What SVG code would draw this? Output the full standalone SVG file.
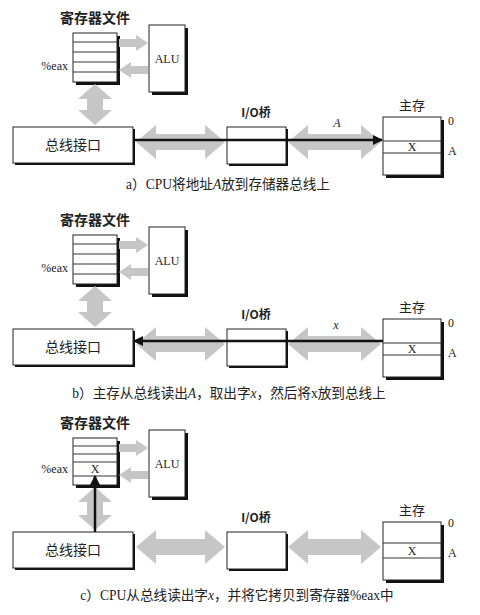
<svg xmlns="http://www.w3.org/2000/svg" width="480" height="615" viewBox="0 0 480 615">
<style>
.bg{fill:#fff}
.box{fill:#fff;stroke:#222;stroke-width:1}
.sh{fill:#111}
.row{stroke:#333;stroke-width:1;fill:none}
.ga{fill:#c6c6c6}
.blk{stroke:#111;stroke-width:2.5;fill:none}
.cjk{font-family:"Noto Sans CJK SC","Liberation Serif",sans-serif;fill:#222}
.ser{font-family:"Liberation Serif","Noto Sans CJK SC",serif;fill:#222}
.cap{font-family:"Liberation Serif","Noto Sans CJK SC",serif;font-size:13.6px;fill:#222;text-anchor:middle}
.mid{text-anchor:middle}
</style>
<defs>
<marker id="ah" viewBox="0 0 10 10" refX="9" refY="5" markerWidth="4.4" markerHeight="4" orient="auto" markerUnits="strokeWidth">
<path d="M0,0 L10,5 L0,10 z" fill="#111"/>
</marker>
</defs>
<rect class="bg" width="480" height="615"/>

<!-- Panel a -->
<g id="panel-a">
<g id="a-regfile">
<text class="cjk mid" x="95" y="23" font-size="14" font-weight="bold">寄存器文件</text>
<rect class="sh" x="76" y="36" width="44" height="49"/>
<rect class="box" x="73" y="33" width="44" height="49"/>
<path class="row" d="M73,42H117M73,52H117M73,62H117M73,72H117"/>
<text class="ser" x="68" y="70" font-size="12" text-anchor="end">%eax</text>
</g>
<g id="a-alu">
<rect class="sh" x="152" y="28" width="36" height="67"/>
<rect class="box" x="149" y="25" width="36" height="67"/>
<text class="ser mid" x="167" y="63" font-size="12">ALU</text>
</g>
<g id="a-bus">
<rect class="sh" x="15" y="129" width="120" height="36"/>
<rect class="box" x="13" y="127" width="120" height="36"/>
<text class="cjk mid" x="73" y="150" font-size="14">总线接口</text>
</g>
<g id="a-io">
<text class="cjk mid" x="256" y="117" font-size="12" font-weight="bold">I/O桥</text>
<rect class="sh" x="229" y="129" width="59" height="37"/>
<rect class="box" x="227" y="127" width="59" height="37"/>
</g>
<g id="a-mem">
<text class="cjk mid" x="412" y="110" font-size="13">主存</text>
<rect class="sh" x="386" y="120" width="58" height="58"/>
<rect class="box" x="383" y="117" width="58" height="58"/>
<path class="row" d="M383,141H441M383,153H441"/>
<text class="ser mid" x="412" y="151" font-size="12">X</text>
<text class="ser" x="448" y="125" font-size="12">0</text>
<text class="ser" x="448" y="155" font-size="12">A</text>
</g>
<g id="a-connectors">
<polygon class="ga" points="119,39 136,39 136,35 148,43 136,51 136,47 119,47"/>
<polygon class="ga" points="148,66 131,66 131,62 119,70 131,78 131,74 148,74"/>
<polygon class="ga" points="95,84 112,99 103,99 103,110 112,110 95,125 78,110 87,110 87,99 78,99"/>
<polygon class="ga" points="136,142 156,125 156,134 205,134 205,125 225,142 205,159 205,150 156,150 156,159"/>
<polygon class="ga" points="288,142 308,125 308,134 361,134 361,125 381,142 361,159 361,150 308,150 308,159"/>
<line class="blk" x1="133" y1="140" x2="382" y2="140" marker-end="url(#ah)"/>
<text class="ser mid" x="337" y="127" font-size="12" font-style="italic">A</text>
</g>
<text class="cap" x="228" y="189">a）CPU将地址<tspan font-style="italic">A</tspan>放到存储器总线上</text>
</g>

<!-- Panel b -->
<g id="panel-b" transform="translate(0,202)">
<g id="b-regfile">
<text class="cjk mid" x="95" y="23" font-size="14" font-weight="bold">寄存器文件</text>
<rect class="sh" x="76" y="36" width="44" height="49"/>
<rect class="box" x="73" y="33" width="44" height="49"/>
<path class="row" d="M73,42H117M73,52H117M73,62H117M73,72H117"/>
<text class="ser" x="68" y="70" font-size="12" text-anchor="end">%eax</text>
</g>
<g id="b-alu">
<rect class="sh" x="152" y="28" width="36" height="67"/>
<rect class="box" x="149" y="25" width="36" height="67"/>
<text class="ser mid" x="167" y="63" font-size="12">ALU</text>
</g>
<g id="b-bus">
<rect class="sh" x="15" y="129" width="120" height="36"/>
<rect class="box" x="13" y="127" width="120" height="36"/>
<text class="cjk mid" x="73" y="150" font-size="14">总线接口</text>
</g>
<g id="b-io">
<text class="cjk mid" x="256" y="117" font-size="12" font-weight="bold">I/O桥</text>
<rect class="sh" x="229" y="129" width="59" height="37"/>
<rect class="box" x="227" y="127" width="59" height="37"/>
</g>
<g id="b-mem">
<text class="cjk mid" x="412" y="110" font-size="13">主存</text>
<rect class="sh" x="386" y="120" width="58" height="58"/>
<rect class="box" x="383" y="117" width="58" height="58"/>
<path class="row" d="M383,141H441M383,153H441"/>
<text class="ser mid" x="412" y="151" font-size="12">X</text>
<text class="ser" x="448" y="125" font-size="12">0</text>
<text class="ser" x="448" y="155" font-size="12">A</text>
</g>
<g id="b-connectors">
<polygon class="ga" points="119,39 136,39 136,35 148,43 136,51 136,47 119,47"/>
<polygon class="ga" points="148,66 131,66 131,62 119,70 131,78 131,74 148,74"/>
<polygon class="ga" points="95,84 112,99 103,99 103,110 112,110 95,125 78,110 87,110 87,99 78,99"/>
<polygon class="ga" points="136,142 156,125 156,134 205,134 205,125 225,142 205,159 205,150 156,150 156,159"/>
<polygon class="ga" points="288,142 308,125 308,134 361,134 361,125 381,142 361,159 361,150 308,150 308,159"/>
<line class="blk" x1="383" y1="139" x2="134" y2="139" marker-end="url(#ah)"/>
<text class="ser mid" x="336" y="127" font-size="12" font-style="italic">x</text>
</g>
<text class="cap" x="229" y="196">b）主存从总线读出<tspan font-style="italic">A</tspan>，取出字<tspan font-style="italic">x</tspan>，然后将x放到总线上</text>
</g>

<!-- Panel c -->
<g id="panel-c" transform="translate(0,405)">
<g id="c-regfile">
<text class="cjk mid" x="95" y="23" font-size="14" font-weight="bold">寄存器文件</text>
<rect class="sh" x="76" y="36" width="44" height="47"/>
<rect class="box" x="73" y="33" width="44" height="47"/>
<path class="row" d="M73,41H117M73,49H117M73,57H117M73,71H117"/>
<text class="ser" x="68" y="68" font-size="12" text-anchor="end">%eax</text>
<text class="ser mid" x="95" y="68" font-size="12">X</text>
</g>
<g id="c-alu">
<rect class="sh" x="152" y="28" width="36" height="67"/>
<rect class="box" x="149" y="25" width="36" height="67"/>
<text class="ser mid" x="167" y="63" font-size="12">ALU</text>
</g>
<g id="c-bus">
<rect class="sh" x="15" y="129" width="120" height="36"/>
<rect class="box" x="13" y="127" width="120" height="36"/>
<text class="cjk mid" x="73" y="150" font-size="14">总线接口</text>
</g>
<g id="c-io">
<text class="cjk mid" x="256" y="117" font-size="12" font-weight="bold">I/O桥</text>
<rect class="sh" x="229" y="129" width="59" height="37"/>
<rect class="box" x="227" y="127" width="59" height="37"/>
</g>
<g id="c-mem">
<text class="cjk mid" x="412" y="110" font-size="13">主存</text>
<rect class="sh" x="386" y="120" width="58" height="58"/>
<rect class="box" x="383" y="117" width="58" height="58"/>
<path class="row" d="M383,138H441M383,153H441"/>
<text class="ser mid" x="412" y="150" font-size="12">X</text>
<text class="ser" x="448" y="122" font-size="12">0</text>
<text class="ser" x="448" y="152" font-size="12">A</text>
</g>
<g id="c-connectors">
<polygon class="ga" points="119,39 136,39 136,35 148,43 136,51 136,47 119,47"/>
<polygon class="ga" points="148,66 131,66 131,62 119,70 131,78 131,74 148,74"/>
<polygon class="ga" points="95,82 112,97 103,97 103,110 112,110 95,125 78,110 87,110 87,97 78,97"/>
<polygon class="ga" points="136,142 156,125 156,134 205,134 205,125 225,142 205,159 205,150 156,150 156,159"/>
<polygon class="ga" points="288,142 308,125 308,134 361,134 361,125 381,142 361,159 361,150 308,150 308,159"/>
<line class="blk" x1="95" y1="127" x2="95" y2="71" marker-end="url(#ah)"/>
</g>
<text class="cap" x="237" y="195">c）CPU从总线读出字<tspan font-style="italic">x</tspan>，并将它拷贝到寄存器%eax中</text>
</g>
</svg>
